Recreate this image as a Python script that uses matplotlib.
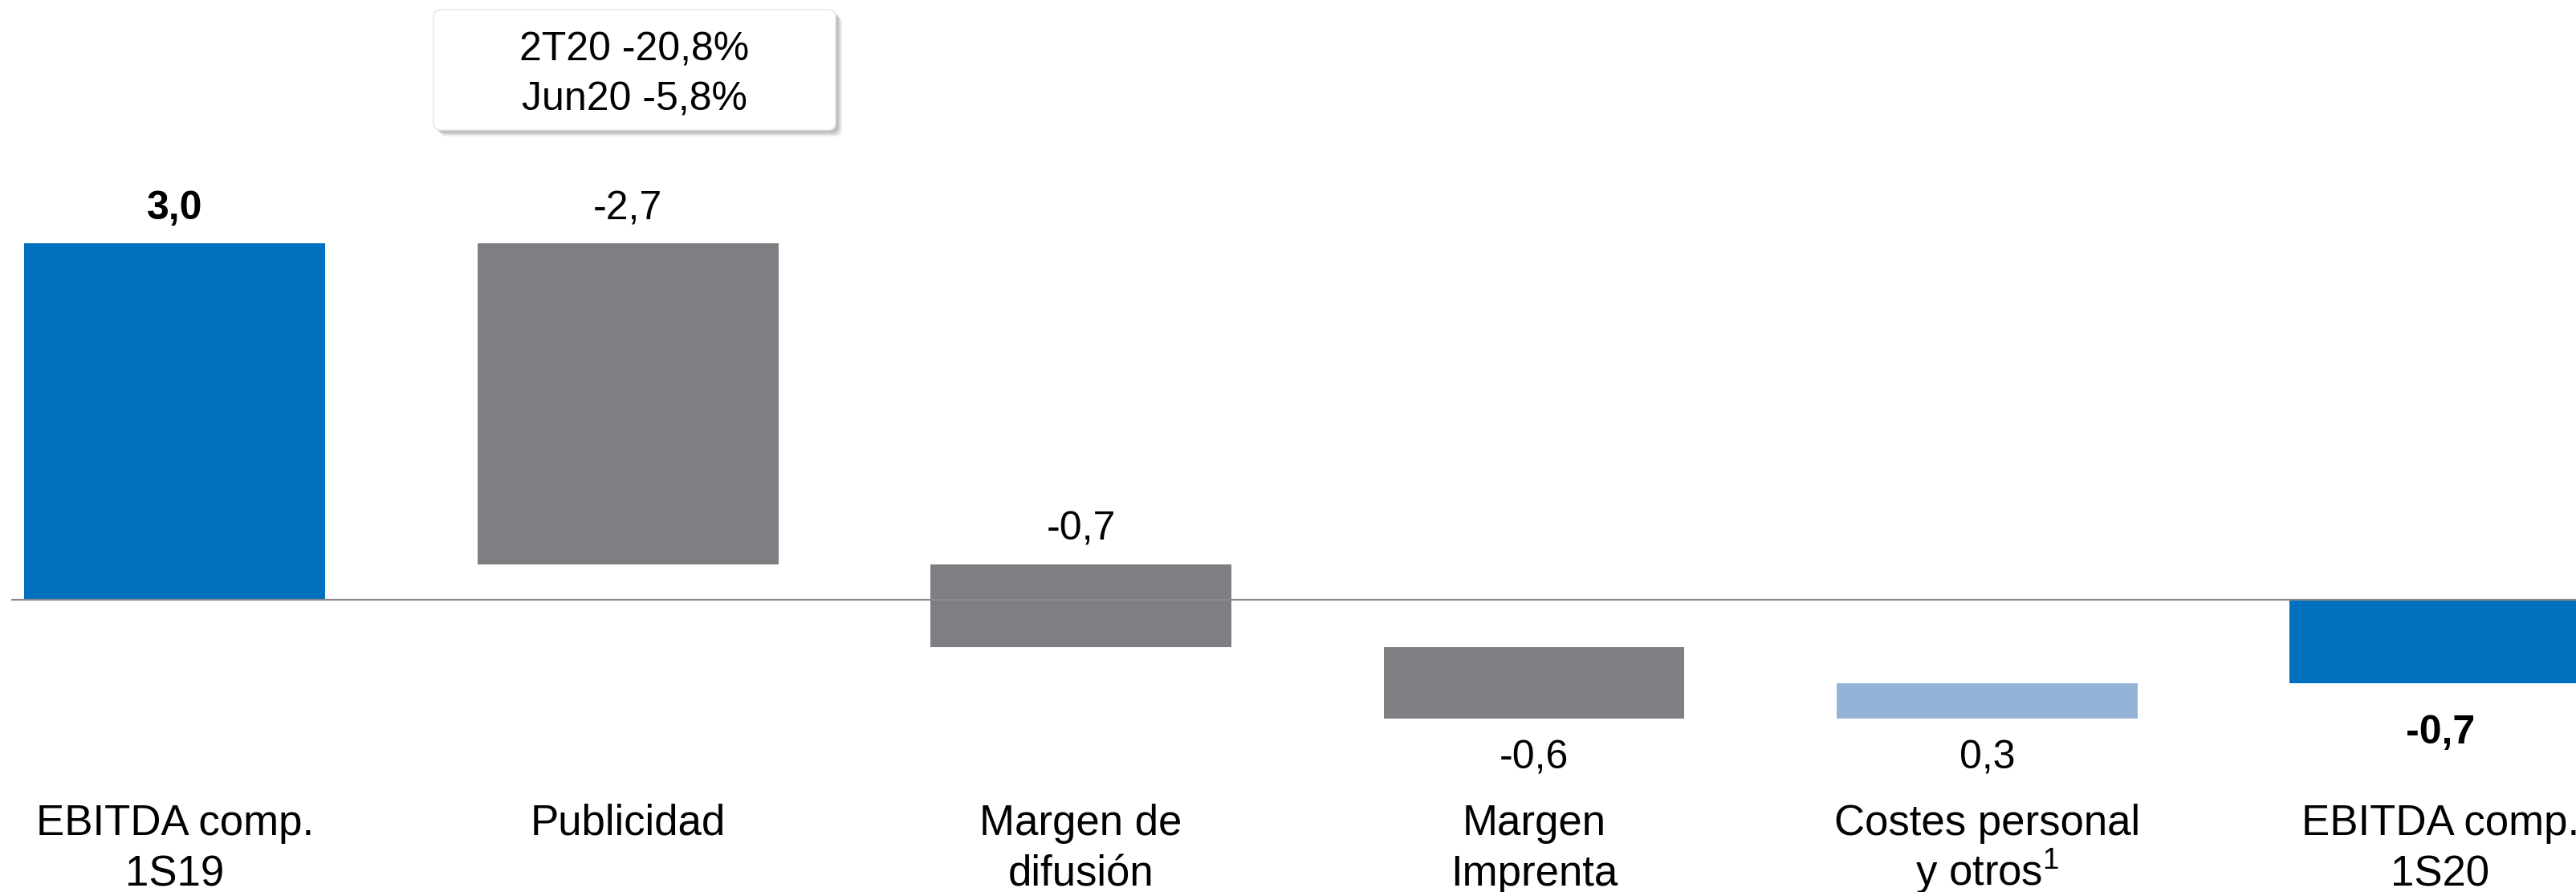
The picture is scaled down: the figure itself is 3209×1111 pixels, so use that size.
import matplotlib
matplotlib.use("Agg")
import matplotlib.pyplot as plt
from matplotlib.patches import FancyBboxPatch
from matplotlib.transforms import IdentityTransform
import numpy as np

plt.rcParams["font.family"] = ["Liberation Sans", "DejaVu Sans"]
plt.rcParams["mathtext.fontset"] = "custom"
plt.rcParams["mathtext.rm"] = "Liberation Sans"

# waterfall data (M EUR)
categories = [["EBITDA comp.", "1S19"], ["Publicidad"], ["Margen de", "difusión"],
              ["Margen", "Imprenta"], ["Costes personal", r"y otros$^{\mathrm{1}}$"],
              ["EBITDA comp.", "1S20"]]
values = [3.0, -2.7, -0.7, -0.6, 0.3, -0.7]
value_labels = ["3,0", "-2,7", "-0,7", "-0,6", "0,3", "-0,7"]
is_total = [True, False, False, False, False, True]
note_lines = ["2T20 -20,8%", "Jun20 -5,8%"]

blue = "#0070BF"
grey = "#7F7E83"
light_blue = "#95B3D7"

W, H = 3209, 1111
fig = plt.figure(figsize=(W / 100, H / 100), dpi=100)
ax = fig.add_axes([0, 0, 1, 1])
ax.axis("off")

# bar spans: totals start at zero, the rest float on the running sum
bottoms = []
running = 0.0
for v, tot in zip(values, is_total):
    if tot:
        bottoms.append(0.0)
        running = v
    else:
        bottoms.append(running)
        running += v

colors = []
for v, tot in zip(values, is_total):
    if tot:
        colors.append(blue)
    elif v < 0:
        colors.append(grey)
    else:
        colors.append(light_blue)

x = np.arange(len(values))
ax.bar(x, values, bottom=bottoms, width=0.664, color=colors, zorder=2)

ax.set_xlim(-0.386, 5.30)
ax.set_ylim(-2.459, 5.05)

ax.plot([-0.361, 5.4], [0, 0], color="#8A8A8A", lw=1.6, zorder=3, solid_capstyle="butt")

# value labels: above bars that reach over the zero line, below the others
for i in range(len(values)):
    lo = min(bottoms[i], bottoms[i] + values[i])
    hi = max(bottoms[i], bottoms[i] + values[i])
    weight = "bold" if is_total[i] else "normal"
    if hi > 0.05:
        ax.annotate(value_labels[i], (x[i], hi), xytext=(0, 30), textcoords="offset pixels",
                    ha="center", va="baseline", fontsize=36, fontweight=weight)
    else:
        off = 75 if is_total[i] else 62
        ax.annotate(value_labels[i], (x[i], lo), xytext=(0, -off), textcoords="offset pixels",
                    ha="center", va="baseline", fontsize=36, fontweight=weight)

# category labels, one text per line
for i, lines in enumerate(categories):
    for j, line in enumerate(lines):
        ax.annotate(line, (x[i], 0), xycoords=("data", "figure pixels"),
                    xytext=(0, H - 1040 - 63 * j), textcoords=("offset pixels", "figure pixels"),
                    ha="center", va="baseline", fontsize=38)

# note box with soft shadow
bx0, bx1, by0, by1 = 540, 1041, H - 162, H - 12
for k, a in enumerate([0.10, 0.14, 0.20]):
    d = 8 - 2 * k
    sh = FancyBboxPatch((bx0 + d, by0 - d), bx1 - bx0, by1 - by0,
                        boxstyle="round,pad=0,rounding_size=9", transform=IdentityTransform(),
                        facecolor="#606060", edgecolor="none", alpha=a, zorder=4)
    fig.patches.append(sh)
box = FancyBboxPatch((bx0, by0), bx1 - bx0, by1 - by0,
                     boxstyle="round,pad=0,rounding_size=9", transform=IdentityTransform(),
                     facecolor="white", edgecolor="#E4E4E4", lw=1, zorder=5)
fig.patches.append(box)
for j, line in enumerate(note_lines):
    fig.text(790 / W, (H - 75 - 63 * j) / H, line, ha="center", va="baseline",
             fontsize=36, zorder=6)

fig.savefig("out.png", dpi=100)
